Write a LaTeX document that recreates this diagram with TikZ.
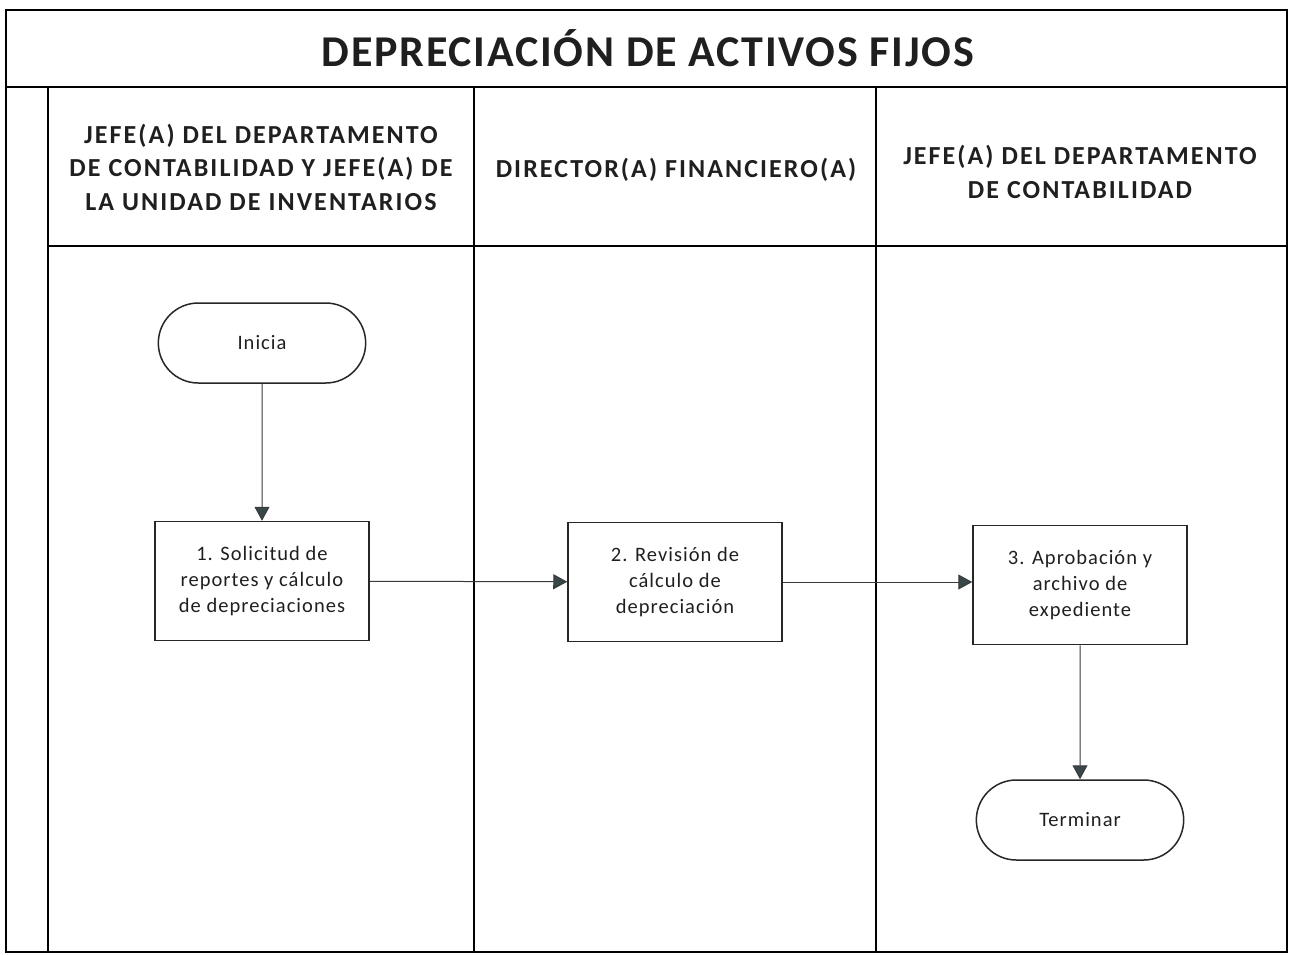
\documentclass[tikz,border=0pt]{standalone}
\usepackage{fontspec}
\setmainfont{Carlito}
\newfontfamily\titlefont[LetterSpace=4]{Carlito}
\newfontfamily\headfont[LetterSpace=8]{Carlito}
\newfontfamily\boxfont[LetterSpace=5]{Carlito}
\usetikzlibrary{arrows.meta,shapes.misc}
\definecolor{tipcol}{HTML}{37474A}
\definecolor{linecol}{HTML}{3A3A3A}
\tikzset{
  frame/.style={line width=1.8pt, draw=black},
  lanehead/.style={font=\headfont\fontsize{26}{33.5}\selectfont\bfseries, align=center, text=black!88},
  stepbox/.style={draw=black!85, line width=1.5pt, minimum width=214pt, minimum height=119pt, align=center, font=\boxfont\fontsize{20.5}{26}\selectfont, text=black!88, inner sep=0pt},
  term/.style={draw=black!85, line width=1.5pt, rounded rectangle, minimum width=214pt, minimum height=80pt, font=\boxfont\fontsize{20.5}{26}\selectfont, text=black!88},
  flow/.style={draw=linecol, line width=1pt, -{Triangle[length=14pt,width=15pt,fill=tipcol]}},
}
\begin{document}
\begin{tikzpicture}[x=1pt,y=-1pt]
\useasboundingbox (0,0) rectangle (1295,954);
% frame
\draw[frame] (6,10) rectangle (1287,952);
\draw[frame] (6,87) -- (1287,87);
\draw[frame] (48,87) -- (48,952);
\draw[frame] (48,246) -- (1287,246);
\draw[frame] (474,87) -- (474,952);
\draw[frame] (876,87) -- (876,952);
% title
\node[font=\titlefont\fontsize{44}{50}\selectfont\bfseries, text=black!88] (title) at (648,48) {DEPRECIACIÓN DE ACTIVOS FIJOS};
% lane headers
\node[lanehead] (h1) at (261,167) {JEFE(A) DEL DEPARTAMENTO\\DE CONTABILIDAD Y JEFE(A) DE\\LA UNIDAD DE INVENTARIOS};
\node[lanehead] (h2) at (676,170) {DIRECTOR(A) FINANCIERO(A)};
\node[lanehead] (h3) at (1080,172) {JEFE(A) DEL DEPARTAMENTO\\DE CONTABILIDAD};
% nodes
\node[term] (inicia) at (262,343) {Inicia};
\node[stepbox] (s1) at (262,581) {1. Solicitud de\\reportes y cálculo\\de depreciaciones};
\node[stepbox] (s2) at (675,582) {2. Revisión de\\cálculo de\\depreciación};
\node[stepbox] (s3) at (1080,585) {3. Aprobación y\\archivo de\\expediente};
\node[term] (fin) at (1080,820) {Terminar};
% connectors
\draw[flow] (inicia) -- (s1);
\draw[flow] (s1) -- (s2);
\draw[flow] (s2.east) -- (s3.west |- s2.east);
\draw[flow] (s3) -- (fin);
\end{tikzpicture}
\end{document}
